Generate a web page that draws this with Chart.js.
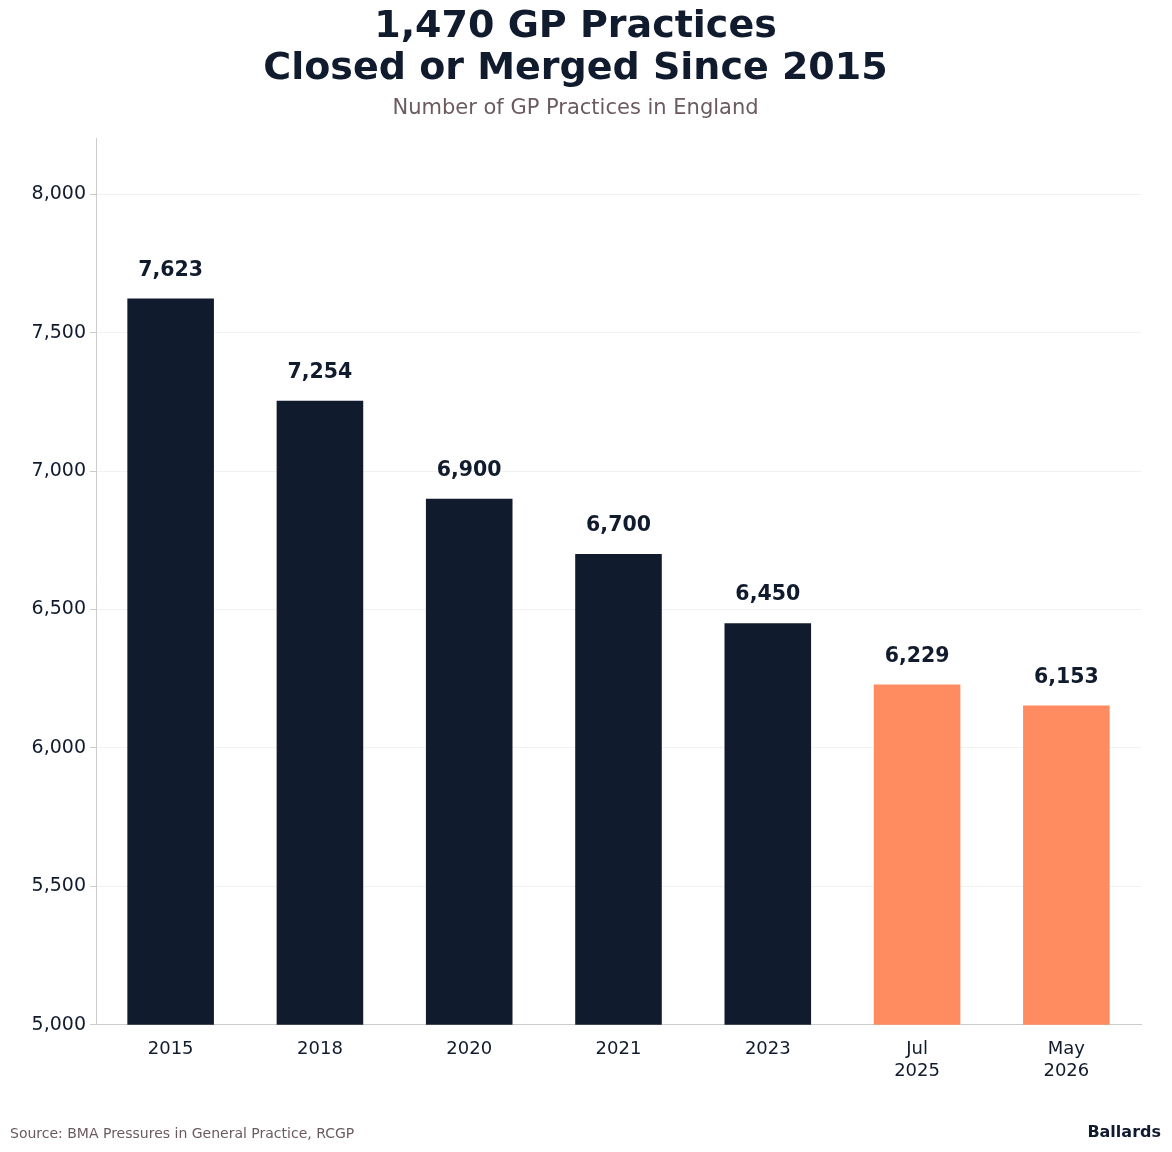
<!DOCTYPE html>
<html><head><meta charset="utf-8">
<script src="https://cdn.jsdelivr.net/npm/chart.js@4"></script>
<style>html,body{margin:0;padding:0;background:#fff}#w{width:1172px;height:1152px}</style>
</head><body><div id="w"><canvas id="c"></canvas></div>
<script>
const categories = [["2015"],["2018"],["2020"],["2021"],["2023"],["Jul","2025"],["May","2026"]];
const values = [7623,7254,6900,6700,6450,6229,6153];
const barColors = ["#111b2e","#111b2e","#111b2e","#111b2e","#111b2e","#ff8c61","#ff8c61"];
const yTicks = [5000,5500,6000,6500,7000,7500,8000];
const FONT = "DejaVu Sans";
const labelsPlugin = {
  id:'lbl',
  afterDatasetsDraw(chart){
    const ctx=chart.ctx, meta=chart.getDatasetMeta(0);
    ctx.save();
    ctx.font="bold 20.5px '"+FONT+"'";ctx.fillStyle="#111b2e";ctx.textAlign="center";ctx.textBaseline="bottom";
    meta.data.forEach((b,i)=>ctx.fillText(values[i].toLocaleString('en-US'),b.x,b.y-18));
    ctx.font="14px '"+FONT+"'";ctx.fillStyle="#6b5a5e";ctx.textAlign="left";ctx.textBaseline="middle";
    ctx.fillText("Source: BMA Pressures in General Practice, RCGP",10,1134);
    ctx.font="bold 16px '"+FONT+"'";ctx.fillStyle="#111b2e";ctx.textAlign="right";
    ctx.fillText("Ballards",1161,1133);
    ctx.restore();
  }
};
new Chart(document.getElementById('c'),{
  type:'bar',
  data:{labels:categories,datasets:[{data:values,backgroundColor:barColors,barPercentage:0.58,categoryPercentage:1}]},
  options:{
    responsive:true,maintainAspectRatio:false,animation:false,
    layout:{padding:{left:10,right:31,top:0,bottom:64}},
    plugins:{legend:{display:false},tooltip:{enabled:false},
      title:{display:true,text:["1,470 GP Practices","Closed or Merged Since 2015"],color:"#111b2e",font:{family:FONT,size:38,weight:'bold',lineHeight:1.1},padding:{top:6,bottom:6}},
      subtitle:{display:true,text:"Number of GP Practices in England",color:"#6b5a5e",font:{family:FONT,size:21},padding:{bottom:18}}},
    scales:{
      x:{grid:{display:false},border:{color:"#cccccc"},ticks:{color:"#111b2e",font:{family:FONT,size:18},padding:6}},
      y:{min:5000,max:8200,border:{color:"#cccccc"},grid:{color:"#f2f2f2",drawTicks:true,tickLength:6,tickColor:"#cccccc"},
        afterFit(s){s.width=86;},
        afterBuildTicks(s){s.ticks=yTicks.map(v=>({value:v}));},
        ticks:{color:"#111b2e",font:{family:FONT,size:19},padding:4,callback:v=>v.toLocaleString('en-US')}}
    }
  },
  plugins:[labelsPlugin]
});
</script></body></html>
